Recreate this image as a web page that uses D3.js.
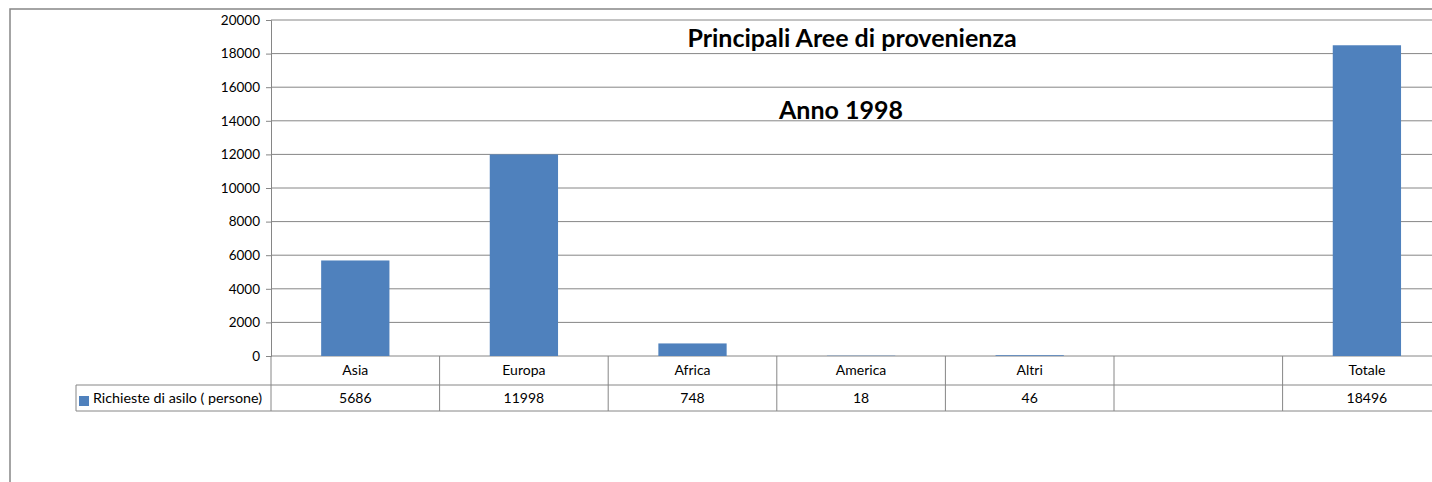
<!DOCTYPE html>
<html>
<head>
<meta charset="utf-8">
<script src="https://d3js.org/d3.v7.min.js"></script>
<style>
  body { margin: 0; background: #fff; }
  svg { font-family: Lato, "Open Sans", sans-serif; }
</style>
</head>
<body>
<div id="chart"></div>
<script>
// data
const categories = ["Asia", "Europa", "Africa", "America", "Altri", "", "Totale"];
const values = [5686, 11998, 748, 18, 46, null, 18496];
const seriesName = "Richieste di asilo ( persone)";
const yTicks = [0, 2000, 4000, 6000, 8000, 10000, 12000, 14000, 16000, 18000, 20000];

const width = 1432, height = 482;
const plotLeft = 271, plotTop = 20, plotBottom = 356, bandW = 168.6;
const rowH1 = 29, rowH2 = 26;
const blue = "#4f81bd", grid = "#868686";

const svg = d3.select("#chart").append("svg")
    .attr("width", width)
    .attr("height", height);

// outer chart frame
svg.append("rect")
    .attr("x", 10).attr("y", 9)
    .attr("width", 1500).attr("height", 600)
    .attr("fill", "none")
    .attr("stroke", grid)
    .attr("stroke-width", 1.5);

const x = d3.scaleBand()
    .domain(d3.range(categories.length))
    .range([plotLeft, plotLeft + bandW * categories.length])
    .paddingInner(0).paddingOuter(0);

const y = d3.scaleLinear()
    .domain([0, 20000])
    .range([plotBottom, plotTop]);

// gridlines
svg.append("g")
  .selectAll("line")
  .data(yTicks)
  .join("line")
    .attr("x1", plotLeft).attr("x2", width)
    .attr("y1", d => y(d)).attr("y2", d => y(d))
    .attr("stroke", grid);

// y axis
const yAxis = svg.append("g")
    .attr("transform", `translate(${plotLeft},0)`)
    .call(d3.axisLeft(y).tickValues(yTicks).tickSize(5).tickPadding(6).tickFormat(d3.format("d")));
yAxis.select(".domain").attr("stroke", grid);
yAxis.selectAll(".tick line").attr("stroke", grid);
yAxis.selectAll("text").attr("font-size", 13.5).attr("fill", "#000").attr("font-family", "Lato, sans-serif");

// bars
const barW = bandW * 0.405;
svg.append("g")
  .selectAll("rect")
  .data(values.map((v, i) => ({v, i})).filter(d => d.v != null))
  .join("rect")
    .attr("x", d => x(d.i) + (bandW - barW) / 2)
    .attr("width", barW)
    .attr("y", d => y(d.v))
    .attr("height", d => y(0) - y(d.v))
    .attr("fill", blue);

// titles
svg.append("text")
    .attr("x", 852).attr("y", 47)
    .attr("text-anchor", "middle")
    .attr("font-size", 25).attr("font-weight", "bold")
    .text("Principali Aree di provenienza");
svg.append("text")
    .attr("x", 841).attr("y", 119)
    .attr("text-anchor", "middle")
    .attr("font-size", 25).attr("font-weight", "bold")
    .text("Anno 1998");

// data table
const table = svg.append("g").attr("stroke", grid).attr("fill", "none");
const r1 = plotBottom, r2 = plotBottom + rowH1, r3 = r2 + rowH2;
table.append("line").attr("x1", plotLeft).attr("x2", width).attr("y1", r2).attr("y2", r2);
table.append("line").attr("x1", 76).attr("x2", width).attr("y1", r3).attr("y2", r3);
table.append("line").attr("x1", 76).attr("x2", plotLeft).attr("y1", r2).attr("y2", r2);
table.append("line").attr("x1", 76).attr("x2", 76).attr("y1", r2).attr("y2", r3);
table.selectAll(".v")
  .data(d3.range(categories.length + 1))
  .join("line")
    .attr("x1", i => plotLeft + bandW * i).attr("x2", i => plotLeft + bandW * i)
    .attr("y1", r1).attr("y2", r3);

svg.append("g")
  .selectAll("text")
  .data(categories)
  .join("text")
    .attr("x", (d, i) => x(i) + bandW / 2)
    .attr("y", r1 + 19)
    .attr("text-anchor", "middle")
    .attr("font-size", 14)
    .text(d => d);

svg.append("g")
  .selectAll("text")
  .data(values)
  .join("text")
    .attr("x", (d, i) => x(i) + bandW / 2)
    .attr("y", r2 + 18)
    .attr("text-anchor", "middle")
    .attr("font-size", 14)
    .text(d => d == null ? "" : d);

// legend key in table
svg.append("rect")
    .attr("x", 79).attr("y", 396)
    .attr("width", 10).attr("height", 10)
    .attr("fill", blue);
svg.append("text")
    .attr("x", 93).attr("y", r2 + 18)
    .attr("font-size", 14.3)
    .text(seriesName);
</script>
</body>
</html>
